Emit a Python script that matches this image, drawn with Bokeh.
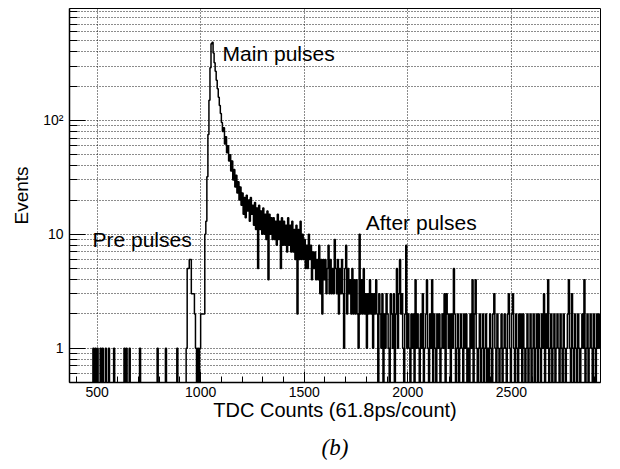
import numpy as np
from bokeh.plotting import figure
from bokeh.models import Range1d, FixedTicker, SingleIntervalTicker, Label, Title
from bokeh.embed import file_html
from bokeh.resources import INLINE

# ---------------- data ----------------
x_start = 370          # first bin edge (TDC counts)
bin_width = 5          # TDC counts per bin
n_bins = 512

# sparse region before the main peak: bin start -> events
pre_pulse_x = [480, 490, 500, 515, 525, 540, 555, 580, 630, 640, 655, 705, 790, 830, 885,
               930, 935, 940, 945, 950, 955, 960, 965, 970, 975, 985, 995, 1000, 1005, 1010, 1015]
pre_pulse_counts = [1, 1, 1, 1, 1, 1, 1, 1, 1, 1, 1, 1, 1, 1, 1,
                    1, 5, 5, 6, 6, 3, 3, 3, 2, 1, 1, 1, 2, 2, 2, 2]

# main peak, bins 1020 ... 1195
main_peak = [10, 13, 32, 75, 150, 290, 470, 485, 390, 320,
             270, 225, 190, 160, 135, 115, 96, 80, 86, 62,
             72, 52, 60, 44, 50, 36, 44, 30, 37, 26,
             33, 23, 29, 20, 26, 18]

# tail, bins 1200 ... 1495
tail_a = [23, 15, 21, 14, 22, 16, 20, 13, 21, 15,
          18, 12, 19, 11, 17, 5, 18, 11, 16, 10,
          17, 10, 15, 9, 16, 4, 15, 10, 14, 9,
          14, 9, 13, 8, 15, 9, 13, 5, 14, 8,
          13, 8, 12, 7, 14, 8, 12, 7, 13, 7,
          11, 6, 12, 2, 11, 6, 13, 6, 10, 6]

# after pulses, bins 1500 ... 1995
tail_b = [9, 5, 8, 5, 10, 6, 8, 4, 7, 5,
          7, 4, 6, 4, 8, 3, 6, 2, 6, 4,
          6, 3, 5, 8, 3, 6, 3, 5, 3, 9,
          5, 3, 6, 2, 5, 3, 6, 3, 1, 5,
          8, 2, 5, 3, 4, 2, 5, 2, 4, 2,
          4, 2, 1, 10, 2, 4, 2, 5, 2, 3,
          1, 3, 2, 4, 2, 3, 1, 3, 2, 4,
          2, 0, 3, 2, 1, 3, 0, 2, 1, 3,
          2, 1, 0, 3, 2, 1, 3, 0, 2, 5,
          1, 3, 6, 2, 3, 1, 0, 2, 8, 1]

# bins 2000 ... 2495
tail_c = [2, 1, 0, 2, 1, 2, 0, 4, 1, 2,
          1, 0, 2, 1, 3, 0, 1, 2, 4, 1,
          0, 2, 1, 4, 0, 2, 1, 0, 2, 1,
          2, 0, 1, 2, 1, 3, 0, 3, 2, 1,
          2, 0, 2, 1, 5, 2, 0, 1, 2, 0,
          1, 2, 1, 0, 2, 1, 2, 0, 1, 0,
          2, 1, 4, 0, 2, 4, 1, 0, 1, 2,
          0, 1, 2, 0, 1, 2, 0, 1, 0, 2,
          1, 0, 2, 3, 1, 0, 2, 1, 0, 1,
          2, 0, 1, 2, 1, 0, 2, 3, 1, 0]

# bins 2500 ... 2925
tail_d = [2, 3, 1, 0, 2, 1, 0, 2, 1, 2,
          0, 2, 1, 0, 1, 2, 0, 1, 2, 0,
          1, 2, 0, 1, 2, 0, 2, 1, 0, 2,
          1, 3, 0, 2, 1, 4, 0, 1, 2, 0,
          1, 2, 0, 1, 2, 1, 0, 2, 1, 0,
          2, 1, 0, 1, 2, 4, 1, 0, 3, 1,
          0, 2, 1, 0, 2, 1, 0, 1, 2, 1,
          4, 0, 1, 2, 0, 1, 2, 1, 0, 2,
          1, 0, 2, 1, 2, 1]

y_tick_labels = {1: "1", 10: "10", 100: "10\u00b2"}

# ---------------- build histogram ----------------
counts = np.zeros(n_bins)
for xv, c in zip(pre_pulse_x, pre_pulse_counts):
    counts[(xv - x_start) // bin_width] = c
body = main_peak + tail_a + tail_b + tail_c + tail_d
i0 = (1020 - x_start) // bin_width
counts[i0:i0 + len(body)] = body

edges = x_start + bin_width * np.arange(n_bins + 1)
shown = np.where(counts > 0, counts, 0.05)   # empty bins drop below the log axis
step_y = np.append(shown, shown[-1])

p = figure(width=612, height=469, title=None,
           x_range=Range1d(367, 2930), y_range=Range1d(0.5, 960),
           y_axis_type="log", output_backend="svg", toolbar_location=None,
           min_border_left=69, min_border_right=12, min_border_top=8, min_border_bottom=86)

p.background_fill_color = "white"
p.border_fill_color = "white"
p.outline_line_color = "black"
p.outline_line_width = 1

p.step(edges, step_y, mode="after", line_color="black", line_width=1.5)

# axes
p.xaxis.ticker = SingleIntervalTicker(interval=500, num_minor_ticks=5)
minor = [0.6, 0.7, 0.8, 0.9] + [m * d for d in (1, 10, 100) for m in range(2, 10)]
p.yaxis.ticker = FixedTicker(ticks=[1, 10, 100], minor_ticks=minor)
p.yaxis.major_label_overrides = y_tick_labels

for ax in (p.xaxis[0], p.yaxis[0]):
    ax.axis_line_color = "black"
    ax.axis_line_width = 1.5
    ax.major_tick_line_color = "black"
    ax.minor_tick_line_color = "black"
    ax.major_tick_out = 0
    ax.minor_tick_out = 0
    ax.major_label_text_font = "Liberation Sans"
    ax.major_label_text_font_size = "14px"
    ax.major_label_text_color = "black"
    ax.axis_label_text_font = "Liberation Sans"
    ax.axis_label_text_font_style = "normal"
    ax.axis_label_text_color = "black"

p.xaxis.major_tick_in = 11
p.xaxis.minor_tick_in = 6
p.yaxis.major_tick_in = 16
p.yaxis.minor_tick_in = 8
p.xaxis.major_label_standoff = 4
p.yaxis.major_label_standoff = 6

p.xaxis.axis_label = "TDC Counts (61.8ps/count)"
p.xaxis.axis_label_text_font_size = "20px"
p.xaxis.axis_label_standoff = -1
p.yaxis.axis_label = "Events"
p.yaxis.axis_label_text_font_size = "19px"
p.yaxis.axis_label_standoff = 8

# grids (dotted)
for g in (p.xgrid[0], p.ygrid[0]):
    g.grid_line_color = "black"
    g.grid_line_dash = "1 2"
    g.grid_line_alpha = 0.9
p.ygrid.minor_grid_line_color = "black"
p.ygrid.minor_grid_line_dash = "1 2"
p.ygrid.minor_grid_line_alpha = 0.9

# annotations
for tx, ty, txt in ((1106, 390, "Main pulses"), (478, 9.0, "Pre pulses"), (1797, 12.8, "After pulses")):
    p.add_layout(Label(x=tx, y=ty, text=txt, text_font="Liberation Sans",
                       text_font_size="21px", text_color="black", text_baseline="alphabetic"))

cap = Title(text="(b)", align="center", text_font="Liberation Serif",
            text_font_style="italic", text_font_size="23px", text_color="black",
            standoff=19)
p.add_layout(cap, "below")

open("out.html", "w").write(file_html(p, INLINE))
